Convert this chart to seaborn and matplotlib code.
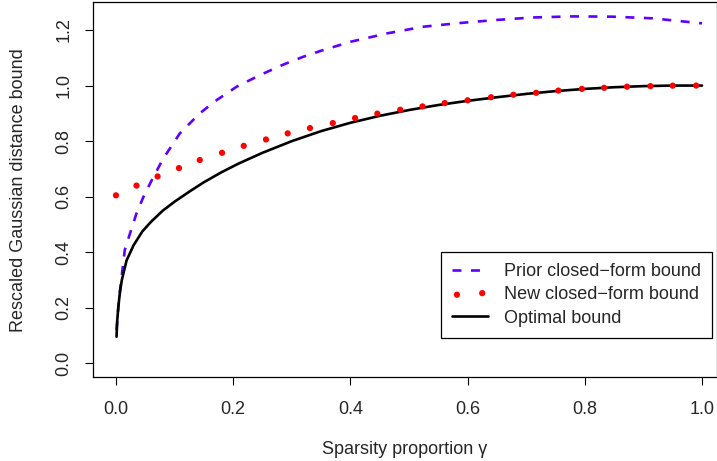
import matplotlib
matplotlib.use("Agg")
import matplotlib.pyplot as plt
import seaborn as sns

# Values
prior_x = [0.001, 0.004, 0.007, 0.015, 0.024, 0.035, 0.047, 0.06, 0.08, 0.109, 0.143,
           0.172, 0.206, 0.246, 0.285, 0.32, 0.351, 0.401, 0.463, 0.525, 0.586, 0.648,
           0.71, 0.778, 0.847, 0.916, 0.962, 1.0]
prior_y = [0.12, 0.2, 0.264, 0.408, 0.468, 0.54, 0.60, 0.655, 0.735, 0.828, 0.90,
           0.948, 0.996, 1.038, 1.075, 1.104, 1.126, 1.158, 1.188, 1.212, 1.225, 1.236,
           1.245, 1.249, 1.248, 1.242, 1.232, 1.224]

new_x = [0.0, 0.035, 0.071, 0.1075, 0.143, 0.181, 0.218, 0.256, 0.293, 0.331, 0.370,
         0.408, 0.446, 0.485, 0.523, 0.561, 0.600, 0.640, 0.678, 0.717, 0.755, 0.795,
         0.833, 0.872, 0.912, 0.950, 0.990]
new_y = [0.605, 0.640, 0.673, 0.703, 0.732, 0.758, 0.783, 0.806, 0.828, 0.847, 0.865,
         0.883, 0.899, 0.913, 0.925, 0.937, 0.947, 0.958, 0.967, 0.974, 0.982, 0.988,
         0.992, 0.996, 0.998, 0.9996, 1.0]

opt_x = [0.001, 0.002, 0.004, 0.007, 0.01, 0.018, 0.03, 0.045, 0.06, 0.08, 0.1, 0.125,
         0.15, 0.18, 0.21, 0.25, 0.3, 0.35, 0.4, 0.45, 0.5, 0.55, 0.6, 0.65, 0.7, 0.75,
         0.8, 0.85, 0.9, 0.95, 1.0]
opt_y = [0.096, 0.15, 0.204, 0.26, 0.30, 0.37, 0.425, 0.475, 0.51, 0.55, 0.582, 0.618,
         0.652, 0.688, 0.72, 0.758, 0.80, 0.836, 0.866, 0.891, 0.912, 0.93, 0.945, 0.958,
         0.97, 0.98, 0.988, 0.994, 0.998, 1.0, 1.0]

x_ticks = [0.0, 0.2, 0.4, 0.6, 0.8, 1.0]
y_ticks = [0.0, 0.2, 0.4, 0.6, 0.8, 1.0, 1.2]

sns.set_style("ticks")
plt.rcParams['font.family'] = ['Liberation Sans', 'DejaVu Sans']
plt.rcParams['font.size'] = 13

W, H = 717, 461
fig = plt.figure(figsize=(W / 100, H / 100), dpi=100)
ax = fig.add_axes([93 / W, 1 - 377 / H, 1 - 93 / W, (377 - 2.5) / H])

# Curves (black drawn before the dots so the dots sit on top)
sns.lineplot(x=prior_x, y=prior_y, ax=ax, color='#5f00ff', lw=1.9,
             linestyle=(0, (3.4, 3.6)), label='Prior closed\u2212form bound')
sns.lineplot(x=opt_x, y=opt_y, ax=ax, color='black', lw=1.9,
             label='Optimal bound')
sns.scatterplot(x=new_x, y=new_y, ax=ax, color='red', s=20, edgecolor='none',
                label='New closed\u2212form bound', zorder=3)

ax.set_xlim(-0.0392, 1.0256)
ax.set_ylim(-0.049, 1.299)
ax.set_xticks(x_ticks)
ax.set_xticklabels([f'{t:.1f}' for t in x_ticks])
ax.set_yticks(y_ticks)
ax.set_yticklabels([f'{t:.1f}' for t in y_ticks], rotation=90, va='center')
ax.tick_params(axis='both', length=6, width=0.8, color='black', labelsize=13)
ax.tick_params(axis='x', pad=11)
ax.tick_params(axis='y', pad=9)
for sp in ax.spines.values():
    sp.set_color('black')
    sp.set_linewidth(0.9)

ax.set_xlabel('Sparsity proportion \u03b3', fontsize=13, labelpad=17)
ax.set_ylabel('Rescaled Gaussian distance bound', fontsize=13, labelpad=20)

# Legend in the order of the reference
handles, labels = ax.get_legend_handles_labels()
order = [labels.index('Prior closed\u2212form bound'),
         labels.index('New closed\u2212form bound'),
         labels.index('Optimal bound')]
leg = ax.legend([handles[i] for i in order], [labels[i] for i in order],
                loc='upper right', bbox_to_anchor=(711.7 / W, 1 - 252.3 / H),
                bbox_transform=fig.transFigure, borderaxespad=0, fancybox=False,
                edgecolor='black', framealpha=1, scatterpoints=2, handlelength=2.0,
                handletextpad=0.9, labelspacing=0.35, borderpad=0.6, fontsize=13)
leg.get_frame().set_linewidth(0.9)

plt.savefig('out.png', dpi=100)
